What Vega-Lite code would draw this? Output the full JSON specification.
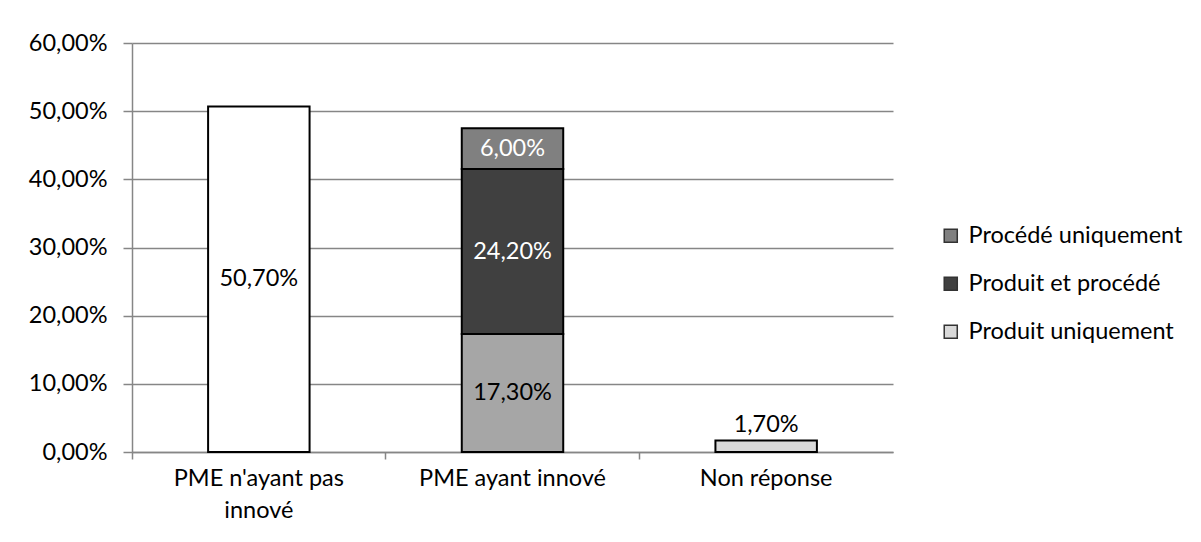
{
  "$schema": "https://vega.github.io/schema/vega-lite/v6.json",
  "width": 761,
  "height": 409,
  "autosize": "none",
  "padding": {"left": 132, "top": 43, "right": 308, "bottom": 90},
  "background": "white",
  "config": {
    "font": "Lato",
    "view": {"stroke": null},
    "locale": {"number": {"decimal": ",", "thousands": " ", "grouping": [3], "currency": ["", " €"]}}
  },
  "data": {
    "values": [
      {"categorie": "PME n'ayant pas innové", "segment": "PME n'ayant pas innové", "valeur": 0.507, "rang": 1},
      {"categorie": "PME ayant innové", "segment": "Produit uniquement (PME ayant innové)", "valeur": 0.173, "rang": 1},
      {"categorie": "PME ayant innové", "segment": "Produit et procédé", "valeur": 0.242, "rang": 2},
      {"categorie": "PME ayant innové", "segment": "Procédé uniquement", "valeur": 0.06, "rang": 3},
      {"categorie": "Non réponse", "segment": "Produit uniquement", "valeur": 0.017, "rang": 1}
    ]
  },
  "transform": [
    {"stack": "valeur", "groupby": ["categorie"], "sort": [{"field": "rang"}], "as": ["v0", "v1"]},
    {"calculate": "(datum.v0 + datum.v1) / 2", "as": "milieu"}
  ],
  "resolve": {"axis": {"x": "independent"}},
  "layer": [
    {
      "mark": {"type": "bar", "stroke": "#000000", "strokeWidth": 2},
      "encoding": {
        "x": {
          "field": "categorie",
          "type": "nominal",
          "sort": null,
          "scale": {"paddingInner": 0.6, "paddingOuter": 0.3},
          "axis": {
            "title": null,
            "orient": "bottom",
            "labelAngle": 0,
            "labelFontSize": 23.5,
            "labelColor": "#000000",
            "labelPadding": 14,
            "labelLineHeight": 32,
            "labelBaseline": "top",
            "labelLimit": 0,
            "labelExpr": "datum.label === \"PME n'ayant pas innové\" ? [\"PME n'ayant pas\", \"innové\"] : datum.label",
            "domainColor": "#868686",
            "domainWidth": 1.5,
            "ticks": false
          }
        },
        "y": {
          "field": "v1",
          "type": "quantitative",
          "scale": {"domain": [0, 0.6], "nice": false},
          "axis": {
            "title": null,
            "format": ".2%",
            "values": [0, 0.1, 0.2, 0.3, 0.4, 0.5, 0.6],
            "labelFontSize": 23.5,
            "labelColor": "#000000",
            "labelPadding": 16,
            "tickSize": 9,
            "tickColor": "#868686",
            "tickWidth": 1.5,
            "gridColor": "#868686",
            "gridWidth": 1.5,
            "gridOpacity": 1,
            "domainColor": "#868686",
            "domainWidth": 1.5
          }
        },
        "y2": {"field": "v0"},
        "color": {
          "field": "segment",
          "type": "nominal",
          "scale": {
            "domain": ["Procédé uniquement", "Produit et procédé", "Produit uniquement", "PME n'ayant pas innové", "Produit uniquement (PME ayant innové)"],
            "range": ["#808080", "#404040", "#d9d9d9", "#ffffff", "#a6a6a6"]
          },
          "legend": {
            "title": null,
            "values": ["Procédé uniquement", "Produit et procédé", "Produit uniquement"],
            "orient": "none",
            "legendX": 807,
            "legendY": 181,
            "symbolType": "square",
            "symbolSize": 170,
            "symbolStrokeColor": "#333333",
            "symbolStrokeWidth": 1.5,
            "labelFontSize": 23.5,
            "labelLimit": 0,
            "labelColor": "#000000",
            "labelOffset": 6,
            "rowPadding": 23
          }
        }
      }
    },
    {
      "transform": [{"filter": "datum.categorie !== 'Non réponse'"}],
      "mark": {"type": "text", "fontSize": 23.5, "baseline": "middle"},
      "encoding": {
        "x": {
          "field": "categorie",
          "type": "nominal",
          "sort": null,
          "axis": {
            "title": null,
            "orient": "bottom",
            "labels": false,
            "domain": false,
            "grid": false,
            "ticks": true,
            "bandPosition": -0.75,
            "tickSize": 7,
            "tickColor": "#868686",
            "tickWidth": 1.5
          }
        },
        "y": {"field": "milieu", "type": "quantitative"},
        "text": {"field": "valeur", "type": "quantitative", "format": ".2%"},
        "color": {
          "condition": {"test": "datum.segment === 'Produit et procédé' || datum.segment === 'Procédé uniquement'", "value": "#ffffff"},
          "value": "#000000"
        }
      }
    },
    {
      "transform": [{"filter": "datum.categorie === 'Non réponse'"}],
      "mark": {"type": "text", "fontSize": 23.5, "baseline": "bottom", "dy": -3, "color": "#000000"},
      "encoding": {
        "x": {"field": "categorie", "type": "nominal", "sort": null, "axis": null},
        "y": {"field": "v1", "type": "quantitative"},
        "text": {"field": "valeur", "type": "quantitative", "format": ".2%"}
      }
    }
  ]
}
